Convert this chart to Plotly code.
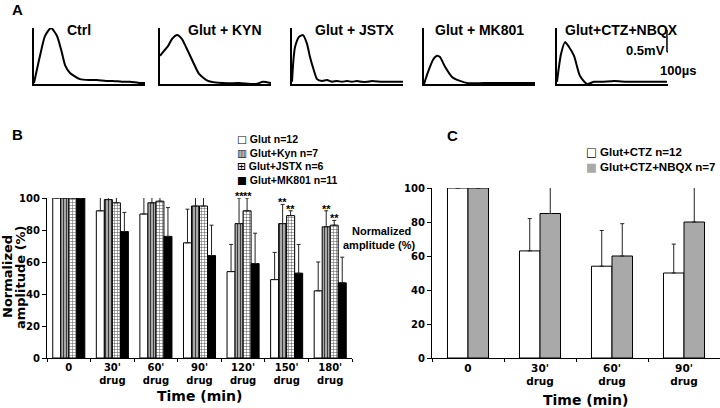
import plotly.graph_objects as go

W, H = 720, 408
def px(x): return x / W
def py(y): return 1 - y / H

BOLD_H = "Liberation Sans"
WIDE = "DejaVu Sans"

# ---------------- Panel A: example traces (time in µs, amplitude in mV) ----------------
ctrl_t = [0, 38, 75, 138, 213, 288, 350, 388, 450, 575, 700, 788, 900, 988, 1100, 1200, 1300, 1388]
ctrl_v = [0.02, 0.34, 0.64, 1.09, 1.27, 1.09, 0.70, 0.43, 0.25, 0.11, 0.09, 0.09, 0.07, 0.07, 0.05, 0.05, 0.03, 0.02]
kyn_t = [0, 50, 100, 150, 213, 275, 325, 413, 488, 600, 788, 988, 1200, 1288, 1388]
kyn_v = [0.64, 0.75, 0.86, 1.02, 1.11, 1.02, 0.84, 0.50, 0.23, 0.07, 0.02, 0.02, 0.0, 0.05, 0.02]
jstx_t = [0, 19, 38, 88, 138, 188, 225, 275, 313, 375, 438, 500, 563, 625, 688, 750, 813, 875, 938, 1000, 1125, 1250, 1388]
jstx_v = [0.05, 0.57, 0.84, 1.07, 1.11, 0.91, 0.61, 0.30, 0.11, 0.07, 0.09, 0.05, 0.07, 0.05, 0.07, 0.05, 0.07, 0.05, 0.05, 0.07, 0.05, 0.05, 0.05]
mk_t = [0, 50, 113, 163, 200, 263, 350, 450, 550, 750, 1000, 1200, 1388]
mk_v = [0.0, 0.27, 0.55, 0.64, 0.61, 0.39, 0.16, 0.07, 0.02, 0.02, 0.02, 0.02, 0.02]
nbqx_t = [0, 25, 50, 100, 150, 213, 288, 375, 463, 563, 713, 875, 1088, 1375]
nbqx_v = [0.05, 0.40, 0.68, 0.95, 0.84, 0.64, 0.18, 0.0, 0.05, 0.05, 0.07, 0.05, 0.05, 0.05]
trace_titles = ["Ctrl", "Glut + KYN", "Glut + JSTX", "Glut + MK801", "Glut+CTZ+NBQX"]
scale_mv = 0.5
scale_us = 100

# ---------------- Panel B ----------------
b_categories = ["0", "30'<br>drug", "60'<br>drug", "90'<br>drug", "120'<br>drug", "150'<br>drug", "180'<br>drug"]
b_glut = [100, 92, 90, 72, 54, 49, 42]
b_glut_err = [0, 23, 16, 21, 17, 17, 18]
b_kyn = [100, 99, 97, 95, 84, 84, 82]
b_kyn_err = [0, 7, 16, 13, 16, 12, 10]
b_jstx = [100, 97, 98, 95, 92, 89, 83]
b_jstx_err = [0, 7, 5, 8, 8, 3, 3]
b_mk = [100, 79, 76, 64, 59, 53, 47]
b_mk_err = [0, 12, 18, 19, 19, 18, 16]
b_names = ["Glut n=12", "Glut+Kyn n=7", "Glut+JSTX n=6", "Glut+MK801 n=11"]
b_sig = [(3, 1), (3, 2), (4, 1), (4, 2), (5, 1), (5, 2), (6, 1), (6, 2)]

# ---------------- Panel C ----------------
c_categories = ["0", "30'<br>drug", "60'<br>drug", "90'<br>drug"]
c_ctz = [100, 63, 54, 50]
c_ctz_err = [0, 19, 21, 17]
c_nbqx = [100, 85, 60, 80]
c_nbqx_err = [0, 18, 19, 24]
c_names = ["Glut+CTZ n=12", "Glut+CTZ+NBQX n=7"]
c_sig = [(1, "*"), (3, "**")]

fig = go.Figure()
layout = dict(template="none", width=W, height=H, margin=dict(l=0, r=0, t=0, b=0, autoexpand=False),
              paper_bgcolor="white", plot_bgcolor="rgba(0,0,0,0)", showlegend=False)

annotations = []
shapes = []

def label(text, x, y, size, family=BOLD_H, bold=True, color="black", angle=0, xanchor="center",
          align="center"):
    font = dict(family=family, size=size, color=color)
    if bold:
        font["weight"] = "bold"
    annotations.append(dict(text=text, x=px(x), y=py(y), xref="paper", yref="paper", showarrow=False,
                            xanchor=xanchor, yanchor="middle", textangle=angle, font=font,
                            borderpad=0, align=align))

# Panel A axes
a_left = [34, 160, 292, 424, 557]
a_width = 111
a_series = [(ctrl_t, ctrl_v), (kyn_t, kyn_v), (jstx_t, jstx_v), (mk_t, mk_v), (nbqx_t, nbqx_v)]
for i, ((t, v), left) in enumerate(zip(a_series, a_left)):
    n = i + 1
    xa = "x" if n == 1 else f"x{n}"
    ya = "y" if n == 1 else f"y{n}"
    fig.add_trace(go.Scatter(x=t, y=v, mode="lines", xaxis=xa, yaxis=ya,
                             line=dict(color="black", width=2, shape="spline", smoothing=0.6),
                             cliponaxis=False, hoverinfo="skip"))
    key = "xaxis" if n == 1 else f"xaxis{n}"
    ykey = "yaxis" if n == 1 else f"yaxis{n}"
    layout[key] = dict(domain=[px(left), px(left + a_width)], range=[0, 1388], anchor=ya,
                       showline=True, linecolor="black", linewidth=1.5, showgrid=False,
                       zeroline=False, showticklabels=False, ticks="", automargin=False)
    layout[ykey] = dict(domain=[py(84), py(28)], range=[0, 1.27], anchor=xa,
                        showline=True, linecolor="black", linewidth=1.5, showgrid=False,
                        zeroline=False, showticklabels=False, ticks="", automargin=False)

title_centers = [79, 225, 355, 479, 621]
for title, cx in zip(trace_titles, title_centers):
    label(title, cx, 30, 14)

# scale bar on trace 5
shapes.append(dict(type="line", xref="x5", yref="y5", x0=1375, x1=1375, y0=0.73, y1=0.73 + scale_mv,
                   line=dict(color="black", width=1.5)))
shapes.append(dict(type="line", xref="x5", yref="y5", x0=1375, x1=1375 + scale_us, y0=0.73, y1=0.73,
                   line=dict(color="black", width=1.5)))
label(f"{scale_mv}mV", 645, 50, 13)
label(f"{scale_us}µs", 678, 70, 13)

# panel letters
for letter, x, y in [("A", 17, 9), ("B", 17, 135), ("C", 452, 136)]:
    label(letter, x, y, 15)

# ---------------- Panel B bars ----------------
bw = 0.184
b_offsets = [-2 * bw, -bw, 0, bw]
b_vals = [b_glut, b_kyn, b_jstx, b_mk]
b_errs = [b_glut_err, b_kyn_err, b_jstx_err, b_mk_err]
b_styles = [
    dict(color="white"),
    dict(color="#a0a0a0", pattern=dict(shape="|", fgcolor="#3a3a3a", bgcolor="#a8a8a8", size=3, solidity=0.35)),
    dict(color="white", pattern=dict(shape="+", fgcolor="#666666", bgcolor="white", size=3, solidity=0.35)),
    dict(color="black"),
]
for vals, errs, off, style, name in zip(b_vals, b_errs, b_offsets, b_styles, b_names):
    marker = dict(line=dict(color="black", width=1), **style)
    fig.add_trace(go.Bar(x=b_categories, y=vals, xaxis="x6", yaxis="y6", width=bw, offset=off,
                         name=name, marker=marker, cliponaxis=False, hoverinfo="skip",
                         error_y=dict(type="data", array=errs, arrayminus=[0] * len(errs), symmetric=False,
                                      color="#222", thickness=1, width=2)))

layout["xaxis6"] = dict(domain=[px(47), px(352)], anchor="y6", type="category", showline=True,
                        linecolor="black", linewidth=1.2, ticks="outside", ticklen=3, tickson="boundaries",
                        tickcolor="black", showgrid=False, zeroline=False, automargin=False,
                        tickfont=dict(family=WIDE, size=10, color="black", weight="bold"))
layout["yaxis6"] = dict(domain=[py(358), py(198)], anchor="x6", range=[0, 100], showline=True,
                        linecolor="black", linewidth=1.2, ticks="outside", ticklen=4, tickcolor="black",
                        tickvals=[0, 20, 40, 60, 80, 100], showgrid=False, zeroline=False, automargin=False,
                        tickfont=dict(family=WIDE, size=10, color="black", weight="bold"))

for ci, si in b_sig:
    xpos = ci + b_offsets[si] + bw / 2
    ytop = b_vals[si][ci] + b_errs[si][ci]
    annotations.append(dict(text="**", x=xpos, y=ytop, xref="x6", yref="y6", showarrow=False,
                            xanchor="center", yanchor="bottom", yshift=-5, borderpad=0,
                            font=dict(family=BOLD_H, size=11, color="black", weight="bold")))

# B legend (single text block)
b_glyphs = ["□", "▥", "⊞", "■"]
b_lines = [f"<span style='font-family:DejaVu Sans'>{g}</span> {n}" for g, n in zip(b_glyphs, b_names)]
label("<br>".join(b_lines), 236, 160, 10.5, xanchor="left", align="left")

# B axis titles
label("Normalized", 7, 277, 13, family=WIDE, angle=-90)
label("amplitude (%)", 20, 277, 13, family=WIDE, angle=-90)
label("Time (min)", 199, 396, 14, family=WIDE)

# ---------------- Panel C bars ----------------
cw = 0.285
c_offsets = [-cw, 0]
c_vals = [c_ctz, c_nbqx]
c_errs = [c_ctz_err, c_nbqx_err]
c_colors = ["white", "#a9a9a9"]
for vals, errs, off, col, name in zip(c_vals, c_errs, c_offsets, c_colors, c_names):
    fig.add_trace(go.Bar(x=c_categories, y=vals, xaxis="x7", yaxis="y7", width=cw, offset=off, name=name,
                         marker=dict(color=col, line=dict(color="black", width=1)), cliponaxis=False,
                         hoverinfo="skip",
                         error_y=dict(type="data", array=errs, arrayminus=[0] * len(errs), symmetric=False,
                                      color="#222", thickness=1, width=2)))

layout["xaxis7"] = dict(domain=[px(432), 1.0], anchor="y7", type="category", showline=True,
                        linecolor="black", linewidth=1.2, ticks="outside", ticklen=3, tickson="boundaries",
                        tickcolor="black", showgrid=False, zeroline=False, automargin=False,
                        tickfont=dict(family=WIDE, size=10.5, color="black", weight="bold"))
layout["yaxis7"] = dict(domain=[py(358), py(188)], anchor="x7", range=[0, 100], showline=True,
                        linecolor="black", linewidth=1.2, ticks="outside", ticklen=4, tickcolor="black",
                        tickvals=[0, 20, 40, 60, 80, 100], showgrid=False, zeroline=False, automargin=False,
                        tickfont=dict(family=WIDE, size=10, color="black", weight="bold"))

for ci, star in c_sig:
    xpos = ci + c_offsets[1] + cw / 2
    ytop = c_vals[1][ci] + c_errs[1][ci]
    annotations.append(dict(text=star, x=xpos, y=ytop, xref="x7", yref="y7", showarrow=False,
                            xanchor="center", yanchor="bottom", yshift=-5, borderpad=0,
                            font=dict(family=BOLD_H, size=12, color="black", weight="bold")))

# C legend (single text block)
c_glyphs = ["<span style='font-family:DejaVu Sans'>□</span>",
            "<span style='font-family:DejaVu Sans;color:#a9a9a9'>■</span>"]
c_lines = [f"{g} {n}" for g, n in zip(c_glyphs, c_names)]
label("<br>".join(c_lines), 585, 160, 11.5, xanchor="left", align="left")

label("Normalized", 381, 231, 11)
label("amplitude (%)", 379, 245, 11)
label("Time (min)", 585, 400, 14, family=WIDE)

layout["annotations"] = annotations
layout["shapes"] = shapes
fig.update_layout(**layout)
fig.write_html("out.html", config={"displayModeBar": False},
               post_script="document.body.style.margin='0';document.body.style.padding='0';"
                           "document.body.style.overflow='hidden';")
